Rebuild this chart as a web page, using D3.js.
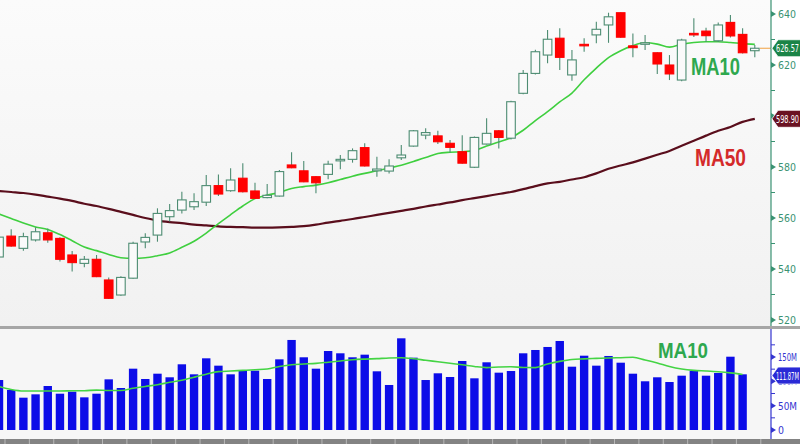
<!DOCTYPE html>
<html><head><meta charset="utf-8">
<script src="https://cdn.jsdelivr.net/npm/d3@7"></script>
<style>body{margin:0;background:#fff}svg{display:block}</style></head>
<body><svg id="c" width="800" height="444"></svg>
<script>
// ---------- data ----------
const days = d3.range(63);
const opens  = [544.7,552.9,548.1,551.4,554.2,552.0,545.5,542.2,543.8,535.7,529.8,536.4,550.6,553.3,560.5,563.1,564.4,566.2,572.7,570.7,575.6,570.6,568.0,568.6,580.8,578.5,576.2,577.1,582.4,583.0,587.6,578.5,578.4,583.6,588.2,592.5,592.2,589.3,586.0,579.9,589.0,594.2,591.3,608.9,616.7,623.9,630.5,616.1,628.1,631.8,635.7,640.5,627.5,628.2,624.8,620.0,614.1,632.4,633.3,629.5,636.7,632.0,625.6];
const highs  = [554.0,555.6,554.2,556.4,555.9,552.5,547.1,545.1,545.5,536.7,537.2,550.7,554.0,563.8,565.5,570.3,569.7,576.9,577.1,579.5,581.5,573.8,573.3,578.8,585.8,582.4,576.5,582.5,584.7,587.3,589.3,584.0,583.0,588.6,594.5,595.2,594.2,590.6,592.5,592.0,599.1,594.5,606.0,618.0,626.0,633.7,634.4,625.9,630.5,637.0,640.5,640.6,632.4,631.8,625.0,623.9,630.3,638.3,634.6,636.7,639.6,634.4,627.8];
const lows   = [543.0,548.7,547.2,550.8,550.3,542.9,539.0,540.7,536.8,528.2,529.5,536.2,548.1,550.7,558.6,561.8,563.1,564.7,568.6,570.3,570.0,567.5,567.7,568.4,579.5,574.0,569.7,575.2,579.1,581.7,580.2,576.2,577.5,582.7,588.0,590.9,589.0,585.6,581.3,579.6,588.8,587.3,590.8,608.5,616.3,620.7,618.0,613.8,625.2,628.5,628.7,630.7,623.0,625.9,616.5,614.1,613.6,631.0,629.1,629.0,630.8,624.5,623.0];
const closes = [552.5,549.0,552.7,554.6,551.4,543.8,542.5,543.8,537.0,528.5,536.7,550.1,552.4,561.8,562.9,567.1,566.4,572.7,569.4,574.9,570.3,567.7,568.9,578.2,579.7,574.2,573.8,581.1,583.0,586.4,580.4,579.2,580.4,584.7,594.2,593.5,589.9,587.7,581.5,591.6,593.2,591.6,605.6,616.7,625.2,630.1,623.0,622.0,627.6,634.0,638.9,630.9,626.8,628.7,620.4,616.5,629.8,631.8,631.5,635.7,631.4,624.8,626.57];
const ma10   = [561.6,559.8,558.0,556.5,555.5,553.5,551.1,548.6,547.2,545.7,544.4,544.2,544.4,545.2,546.3,548.5,550.9,554.1,557.8,561.3,564.7,567.6,569.0,570.0,571.6,572.3,572.9,573.8,575.1,576.4,577.5,578.5,579.6,580.7,582.2,583.7,585.3,585.8,586.0,586.5,588.2,589.8,591.5,594.4,598.2,601.7,605.5,609.0,614.2,618.8,622.9,625.6,627.6,628.7,628.2,627.0,628.1,628.8,629.1,629.1,628.8,628.4,628.1];
const ma50   = [570.6,570.2,569.8,569.2,568.4,567.6,566.7,565.6,564.7,563.6,562.4,561.2,560.0,559.0,558.4,558.0,557.4,557.1,556.7,556.5,556.4,556.2,556.2,556.3,556.5,556.8,557.4,558.2,558.9,559.6,560.4,561.2,562.0,562.8,563.6,564.5,565.3,566.1,567.0,567.8,568.6,569.4,570.2,571.3,572.5,573.6,574.2,575.1,576.0,577.5,579.3,580.6,581.8,583.3,584.8,586.3,588.3,590.3,592.3,594.2,595.7,597.7,598.9];
const volumes = [102.7,82.2,66.4,73.3,90.4,74.6,78.8,67.1,74.6,104.1,86.3,126.0,104.8,115.7,108.3,135.0,114.4,147.3,132.2,114.4,123.3,121.9,104.8,145.2,185.0,149.4,126.0,162.3,157.6,149.4,154.8,120.6,92.5,188.4,148.6,102.7,116.5,108.9,141.8,106.2,139.1,117.8,121.2,157.6,164.4,170.6,182.9,130.1,152.7,132.2,152.1,138.3,115.7,100.1,108.3,98.6,111.6,121.9,111.6,117.1,150.6,114.4];
const volMa10 = [89.4,83.2,80.1,80.1,80.1,80.1,80.6,80.8,82.0,81.2,81.2,85.7,89.4,93.1,98.0,102.3,108.5,114.5,120.0,121.2,122.5,123.9,125.4,130.5,134.2,135.6,136.9,139.3,141.8,144.3,145.7,146.7,148.0,148.4,146.5,143.2,140.2,137.1,134.0,130.5,128.2,129.3,129.9,128.4,128.2,135.6,141.0,144.9,146.1,147.1,148.0,148.6,149.4,143.9,137.7,130.5,125.4,122.5,121.2,119.6,117.3,114.1];
const priceTicks = [520,540,560,580,600,620,640];
const priceLabelTicks = [520,540,560,580,620,640];
const priceMinor = [530,550,570,590,610,630];
const volTicks = [0,50,100,150];
const volMinor = [25,75,125,175];
const lastPrice = 626.57, lastMa50 = 598.90, lastVolMa = 111.87;

// ---------- setup ----------
const svg = d3.select('#c');
const AX = 771;
const x  = d3.scaleLinear().domain([0, 62]).range([-1, 754.8]);
const y  = d3.scaleLinear().domain([520, 640]).range([320, 14]);
const yv = d3.scaleLinear().domain([0, 150]).range([430, 357]);
const FONT = 'DejaVu Sans Condensed, DejaVu Sans, sans-serif';

const defs = svg.append('defs');
const g1 = defs.append('linearGradient').attr('id','bg').attr('x1',0).attr('y1',0).attr('x2',0).attr('y2',1);
g1.append('stop').attr('offset','0%').attr('stop-color','#fbfbfb');
g1.append('stop').attr('offset','100%').attr('stop-color','#f1f1f1');
defs.append('clipPath').attr('id','cp').append('rect').attr('x',0).attr('y',0).attr('width',AX).attr('height',326);
defs.append('clipPath').attr('id','cv').append('rect').attr('x',0).attr('y',329).attr('width',AX).attr('height',110);

svg.append('rect').attr('width',800).attr('height',444).attr('fill','#ffffff');
svg.append('rect').attr('x',0).attr('y',0).attr('width',AX).attr('height',326).attr('fill','url(#bg)');
svg.append('rect').attr('x',0).attr('y',329).attr('width',AX).attr('height',110).attr('fill','#f6f6f6');
svg.append('rect').attr('x',0).attr('y',326).attr('width',800).attr('height',3).attr('fill','#a6a6a6');
svg.append('rect').attr('x',0).attr('y',439).attr('width',800).attr('height',5).attr('fill','#838383');
svg.append('g').selectAll('line').data(days.filter(d=>d%2===0)).join('line')
  .attr('x1',d=>x(d)+6).attr('x2',d=>x(d)+6).attr('y1',439).attr('y2',444)
  .attr('stroke','#b8b8b8').attr('stroke-width',1);

// ---------- price panel ----------
const pp = svg.append('g').attr('clip-path','url(#cp)');
const lineP = d3.line().x((d,i)=>x(i)).y(d=>y(d)).curve(d3.curveMonotoneX);
pp.append('path').attr('d', lineP(ma50)).attr('fill','none').attr('stroke','#5a0e1c').attr('stroke-width',2.2);
pp.append('path').attr('d', lineP(ma10)).attr('fill','none').attr('stroke','#3fcf3f').attr('stroke-width',1.6);

const cg = pp.append('g');
days.forEach(i => {
  const o = opens[i], c = closes[i], up = c >= o;
  cg.append('line').attr('x1',x(i)).attr('x2',x(i)).attr('y1',y(highs[i])).attr('y2',y(lows[i]))
    .attr('stroke','#4d8c72').attr('stroke-width',1.1);
  const top = y(Math.max(o,c)), h = Math.max(1.5, Math.abs(y(o)-y(c)));
  cg.append('rect').attr('x',x(i)-4.3).attr('y',top).attr('width',8.6).attr('height',h)
    .attr('fill', up ? '#fafafa' : '#ff0000')
    .attr('stroke', up ? '#4d8c72' : '#ff0000').attr('stroke-width',1.1);
});
pp.append('line').attr('x1',x(62)+5).attr('x2',AX).attr('y1',y(lastPrice)).attr('y2',y(lastPrice))
  .attr('stroke','#f0a040').attr('stroke-width',1);

svg.append('text').attr('x',691).attr('y',75).text('MA10')
  .attr('font-family','Liberation Sans, Arial, sans-serif').attr('font-weight','bold').attr('font-size',23)
  .attr('textLength',49).attr('lengthAdjust','spacingAndGlyphs').attr('fill','#2ea84e');
svg.append('text').attr('x',695).attr('y',166).text('MA50')
  .attr('font-family','Liberation Sans, Arial, sans-serif').attr('font-weight','bold').attr('font-size',23)
  .attr('textLength',51).attr('lengthAdjust','spacingAndGlyphs').attr('fill','#d42a2a');

// price axis
svg.append('line').attr('x1',AX).attr('x2',AX).attr('y1',0).attr('y2',326).attr('stroke','#3a9272').attr('stroke-width',1.2);
const pax = svg.append('g').attr('transform',`translate(${AX},0)`)
  .call(d3.axisRight(y).tickValues(priceLabelTicks).tickSize(0).tickPadding(7).tickFormat(d3.format('d')));
pax.select('.domain').remove();
pax.selectAll('text').attr('fill','#3a9272').attr('font-family',FONT).attr('font-size',11)
  .attr('textLength',18).attr('lengthAdjust','spacingAndGlyphs');
svg.append('g').selectAll('path').data(priceTicks).join('path')
  .attr('d',d=>`M${AX},${y(d)-3}L${AX+5},${y(d)}L${AX},${y(d)+3}Z`).attr('fill','#3a9272');
svg.append('g').selectAll('line').data(priceMinor).join('line')
  .attr('x1',AX).attr('x2',AX+4).attr('y1',d=>y(d)).attr('y2',d=>y(d)).attr('stroke','#3a9272');

function tag(yy, txt, fill, len, fs){
  const g = svg.append('g');
  g.append('path').attr('d',`M${AX+1},${yy}L${AX+7},${yy-8.5}L805,${yy-8.5}L805,${yy+8.5}L${AX+7},${yy+8.5}Z`)
    .attr('fill',fill).attr('stroke','#ffffff').attr('stroke-width',0.8);
  g.append('text').attr('x',AX+5).attr('y',yy+4).text(txt).attr('fill','#ffffff')
    .attr('font-family',FONT).attr('font-size',fs)
    .attr('textLength',len).attr('lengthAdjust','spacingAndGlyphs');
}

// ---------- volume panel ----------
const vp = svg.append('g').attr('clip-path','url(#cv)');
vp.selectAll('rect').data(volumes).join('rect')
  .attr('x',(d,i)=>x(i)-4.2).attr('width',8.4)
  .attr('y',d=>yv(d)).attr('height',d=>yv(0)-yv(d))
  .attr('fill','#0c0ce8');
const lineV = d3.line().x((d,i)=>x(i)).y(d=>yv(d)).curve(d3.curveMonotoneX);
vp.append('path').attr('d', lineV(volMa10)).attr('fill','none').attr('stroke','#44d444').attr('stroke-width',1.6);
svg.append('text').attr('x',658).attr('y',358).text('MA10')
  .attr('font-family','Liberation Sans, Arial, sans-serif').attr('font-weight','bold').attr('font-size',22)
  .attr('textLength',50).attr('lengthAdjust','spacingAndGlyphs').attr('fill','#2ea84e');

svg.append('line').attr('x1',AX).attr('x2',AX).attr('y1',329).attr('y2',439).attr('stroke','#3535d0').attr('stroke-width',1.2);
const vax = svg.append('g').attr('transform',`translate(${AX},0)`)
  .call(d3.axisRight(yv).tickValues(volTicks).tickSize(0).tickPadding(7).tickFormat(d=> d===0 ? '0' : d+'M'));
vax.select('.domain').remove();
vax.selectAll('text').attr('fill','#3535d0').attr('font-family',FONT).attr('font-size',10.5)
  .attr('textLength',d=> d===0 ? 6 : 19).attr('lengthAdjust','spacingAndGlyphs');
svg.append('g').selectAll('path').data(volTicks).join('path')
  .attr('d',d=>`M${AX},${yv(d)-3}L${AX+5},${yv(d)}L${AX},${yv(d)+3}Z`).attr('fill','#3535d0');
svg.append('g').selectAll('line').data(volMinor).join('line')
  .attr('x1',AX).attr('x2',AX+4).attr('y1',d=>yv(d)).attr('y2',d=>yv(d)).attr('stroke','#3535d0');

tag(y(lastPrice), lastPrice.toFixed(2), '#1b8447', 23, 11);
tag(y(lastMa50), lastMa50.toFixed(2), '#6a1222', 23, 11);
tag(yv(lastVolMa), lastVolMa.toFixed(2)+'M', '#2a2ad6', 23, 10);
</script></body></html>
